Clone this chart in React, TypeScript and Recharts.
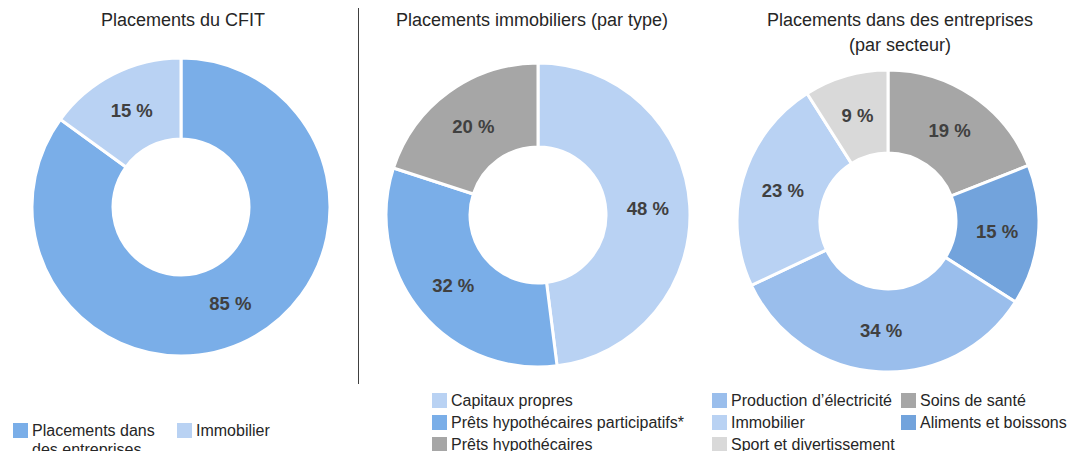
import React from 'react';
import { Cell, Pie, PieChart } from 'recharts';

const FONT = '"Liberation Sans", Arial, sans-serif';

const cfitNames = ['Placements dans des entreprises', 'Immobilier'];
const cfitValues = [85, 15];
const cfitColors = ['#7aaee8', '#b9d2f3'];

const immoNames = ['Capitaux propres', 'Prêts hypothécaires participatifs*', 'Prêts hypothécaires'];
const immoValues = [48, 32, 20];
const immoColors = ['#b9d2f3', '#7aaee8', '#a6a6a6'];

const secteurNames = ['Soins de santé', 'Aliments et boissons', "Production d’électricité", 'Immobilier', 'Sport et divertissement'];
const secteurValues = [19, 15, 34, 23, 9];
const secteurColors = ['#a6a6a6', '#72a3dc', '#9abeec', '#b9d2f3', '#d9d9d9'];

const RAD = Math.PI / 180;

const renderLabel = (props: any) => {
  const { cx, cy, midAngle, innerRadius, outerRadius, value } = props;
  const r = (innerRadius + outerRadius) / 2;
  const x = cx + r * Math.cos(-midAngle * RAD);
  const y = cy + r * Math.sin(-midAngle * RAD);
  return (
    <text
      x={x}
      y={y}
      textAnchor="middle"
      dominantBaseline="central"
      fill="#404040"
      fontSize={18.5}
      fontWeight="bold"
      fontFamily={FONT}
    >
      {`${value} %`}
    </text>
  );
};

function Donut({
  names,
  values,
  colors,
  left,
  top,
  outer,
}: {
  names: string[];
  values: number[];
  colors: string[];
  left: number;
  top: number;
  outer: number;
}) {
  const data = names.map((name, i) => ({ name, value: values[i] }));
  return (
    <div style={{ position: 'absolute', left, top }}>
      <PieChart width={320} height={320} margin={{ top: 0, right: 0, bottom: 0, left: 0 }}>
        <Pie
          data={data}
          dataKey="value"
          nameKey="name"
          cx={160}
          cy={160}
          innerRadius={68}
          outerRadius={outer}
          startAngle={90}
          endAngle={-270}
          stroke="#ffffff"
          strokeWidth={3}
          label={renderLabel}
          labelLine={false}
          isAnimationActive={false}
        >
          {data.map((d, i) => (
            <Cell key={d.name} fill={colors[i]} />
          ))}
        </Pie>
      </PieChart>
    </div>
  );
}

function LegendItem({ x, y, color, text, width }: { x: number; y: number; color: string; text: string; width?: number }) {
  return (
    <div style={{ position: 'absolute', left: x, top: y, display: 'flex', alignItems: 'flex-start' }}>
      <span style={{ width: 15, height: 15, background: color, marginTop: 2, marginRight: 4, flexShrink: 0 }} />
      <span style={{ fontSize: 16, color: '#262626', lineHeight: '19px', width, whiteSpace: width ? 'normal' : 'nowrap' }}>
        {text}
      </span>
    </div>
  );
}

const titleStyle: React.CSSProperties = {
  position: 'absolute',
  fontSize: 18,
  color: '#262626',
  textAlign: 'center',
  lineHeight: '25px',
};

export default function App() {
  return (
    <div
      style={{
        position: 'absolute',
        left: 0,
        top: 0,
        width: 1068,
        height: 451,
        overflow: 'hidden',
        background: '#fff',
        fontFamily: FONT,
      }}
    >
      <div style={{ ...titleStyle, left: 33, width: 300, top: 8 }}>Placements du CFIT</div>
      <div style={{ ...titleStyle, left: 382, width: 300, top: 8 }}>Placements immobiliers (par type)</div>
      <div style={{ ...titleStyle, left: 740, width: 320, top: 8 }}>
        Placements dans des entreprises
        <br />
        (par secteur)
      </div>

      <div style={{ position: 'absolute', left: 358, top: 8, width: 1, height: 376, background: '#404040' }} />

      <Donut names={cfitNames} values={cfitValues} colors={cfitColors} left={21} top={47} outer={149} />
      <Donut names={immoNames} values={immoValues} colors={immoColors} left={378} top={55} outer={152} />
      <Donut names={secteurNames} values={secteurValues} colors={secteurColors} left={728} top={61} outer={151} />

      <LegendItem x={13} y={421} color={cfitColors[0]} text={cfitNames[0]} width={135} />
      <LegendItem x={177} y={421} color={cfitColors[1]} text={cfitNames[1]} />

      <LegendItem x={432} y={391} color={immoColors[0]} text={immoNames[0]} />
      <LegendItem x={432} y={413} color={immoColors[1]} text={immoNames[1]} />
      <LegendItem x={432} y={435} color={immoColors[2]} text={immoNames[2]} />

      <LegendItem x={712} y={391} color={secteurColors[2]} text={secteurNames[2]} />
      <LegendItem x={712} y={413} color={secteurColors[3]} text={secteurNames[3]} />
      <LegendItem x={712} y={435} color={secteurColors[4]} text={secteurNames[4]} />
      <LegendItem x={901} y={391} color={secteurColors[0]} text={secteurNames[0]} />
      <LegendItem x={901} y={413} color={secteurColors[1]} text={secteurNames[1]} />
    </div>
  );
}
